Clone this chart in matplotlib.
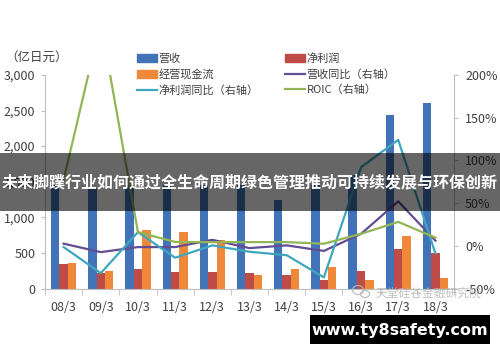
import matplotlib
matplotlib.use("Agg")
import matplotlib.pyplot as plt
import numpy as np
from matplotlib.lines import Line2D
from matplotlib.patches import Patch, Rectangle, Ellipse
from matplotlib.ticker import FuncFormatter, MultipleLocator

plt.rcParams['font.family'] = ['Noto Sans CJK SC', 'DejaVu Sans']

# data
years = ['08/3', '09/3', '10/3', '11/3', '12/3', '13/3', '14/3', '15/3', '16/3', '17/3', '18/3']
revenue = [1450, 1430, 1450, 1450, 1450, 1450, 1250, 1450, 1600, 2440, 2610]      # 营收 (亿日元)
net_profit = [340, 222, 270, 236, 236, 222, 194, 120, 246, 551, 495]              # 净利润
op_cash = [363, 246, 823, 800, 682, 185, 279, 307, 120, 738, 152]                 # 经营现金流
rev_yoy = [2.5, -7.4, -1.5, -1.5, 7, -2.7, 0.5, -6, 14, 52, 6]                    # 营收同比 (%)
np_yoy = [-1.5, -32, 16, -14, 0.5, -7, -11, -37, 92, 124, -9]                     # 净利润同比 (%)
roic = [77, 262, 16, 4.5, 4.3, 4.3, 4.3, 2.4, 14, 28, 9.5]                        # ROIC (%)

c_blue = '#4273B8'
c_red = '#BE4B48'
c_orange = '#F0883A'
c_purple = '#634D93'
c_cyan = '#3FA6BF'
c_green = '#92B556'
c_axis = '#BFBFBF'
c_text = '#404040'

fig = plt.figure(figsize=(5, 3.62), dpi=100)
ax = fig.add_axes([0.09, 0.203, 0.818, 0.590])
ax2 = ax.twinx()

x = np.arange(len(years))
w = 0.226
ax.bar(x - w, revenue, w, color=c_blue, zorder=2)
ax.bar(x, net_profit, w, color=c_red, zorder=2)
ax.bar(x + w, op_cash, w, color=c_orange, zorder=2)

ax.set_xlim(-0.5, len(years) - 0.5)
ax.set_ylim(0, 3000)
ax.yaxis.set_major_locator(MultipleLocator(500))
ax.yaxis.set_major_formatter(FuncFormatter(lambda v, p: f'{int(v):,}'))
ax.set_xticks(x)
ax.set_xticklabels(years)
ax.set_xticks(np.arange(-0.5, len(years)), minor=True)
ax.tick_params(axis='x', which='major', length=0, pad=9, labelsize=9, colors=c_text)
ax.tick_params(axis='x', which='minor', length=4, color=c_axis)
ax.tick_params(axis='y', length=3, color=c_axis, labelsize=9, labelcolor=c_text, pad=4)

ax2.plot(x, rev_yoy, color=c_purple, lw=1.6, zorder=3)
ax2.plot(x, np_yoy, color=c_cyan, lw=1.6, zorder=3)
ax2.plot(x, roic, color=c_green, lw=1.6, zorder=3)
ax2.set_ylim(-50, 200)
ax2.yaxis.set_major_locator(MultipleLocator(50))
ax2.yaxis.set_major_formatter(FuncFormatter(lambda v, p: f'{int(v)}%'))
ax2.tick_params(axis='y', length=3, color=c_axis, labelsize=9, labelcolor=c_text, pad=5)

for a in (ax, ax2):
    a.spines['top'].set_visible(False)
    for s in ('left', 'right', 'bottom'):
        a.spines[s].set_color(c_axis)
ax.spines['right'].set_visible(False)
ax2.spines['left'].set_visible(False)
ax2.spines['bottom'].set_visible(False)

fig.text(0.01, 0.843, '（亿日元）', fontsize=9, color=c_text, va='center')

handles = [Patch(color=c_blue), Patch(color=c_orange), Line2D([], [], color=c_cyan, lw=1.6),
           Patch(color=c_red), Line2D([], [], color=c_purple, lw=1.6), Line2D([], [], color=c_green, lw=1.6)]
labels = ['营收', '经营现金流', '净利润同比（右轴）', '净利润', '营收同比（右轴）', 'ROIC（右轴）']
fig.legend(handles, labels, ncol=2, frameon=False, fontsize=8, labelcolor=c_text,
           loc='upper left', bbox_to_anchor=(0.262, 0.868), handlelength=1.8,
           handletextpad=0.15, labelspacing=0.45, columnspacing=2.4, borderpad=0)

# semi-transparent title banner
fig.patches.append(Rectangle((0, 1 - 211 / 362), 1, 58 / 362, transform=fig.transFigure,
                             facecolor='black', alpha=0.6, zorder=5))
fig.text(0.5, 1 - 182 / 362, '未来脚蹼行业如何通过全生命周期绿色管理推动可持续发展与环保创新',
         fontsize=11.5, fontweight='bold', color='white', ha='center', va='center', zorder=6)

# watermark
for cx, cy, ew in ((358, 290, 11), (365, 294, 9)):
    fig.patches.append(Ellipse((cx / 500, 1 - cy / 362), ew / 500, (ew - 2) / 362,
                               transform=fig.transFigure, facecolor='none',
                               edgecolor='#B8B8B8', lw=0.8, zorder=6))
fig.text(0.752, 1 - 293 / 362, '天堂硅谷金融研究院', fontsize=8.5, color='#B0B0B0',
         alpha=0.8, va='center', zorder=6)

# site label box
fig.patches.append(Rectangle((310 / 500, 1 - 344 / 362), 180 / 500, 29 / 362,
                             transform=fig.transFigure, facecolor='black', zorder=5))
fig.text(0.8, 1 - 330 / 362, 'www.ty8safety.com', fontsize=11.5, fontweight='bold',
         color='white', ha='center', va='center', family=['DejaVu Sans'], zorder=6)

fig.savefig('out.png', dpi=100)
